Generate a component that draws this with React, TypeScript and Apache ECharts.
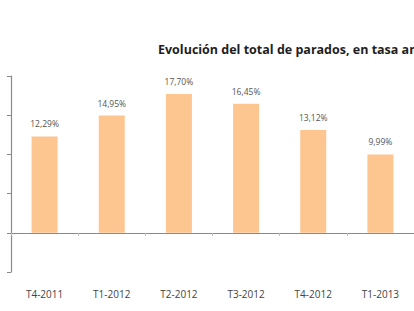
import React, { useEffect, useRef } from "react";
import * as echarts from "echarts";

const title = "Evolución del total de parados, en tasa anual";
const categories = ["T4-2011", "T1-2012", "T2-2012", "T3-2012", "T4-2012", "T1-2013"];
const values = [12.29, 14.95, 17.7, 16.45, 13.12, 9.99];
const labels = ["12,29%", "14,95%", "17,70%", "16,45%", "13,12%", "9,99%"];

export default function App() {
  const ref = useRef<HTMLDivElement>(null);
  useEffect(() => {
    const chart = echarts.init(ref.current!, null, { renderer: "svg" });
    chart.setOption({
      animation: false,
      backgroundColor: "#ffffff",
      title: {
        text: title,
        left: 153,
        top: 38,
        textStyle: { fontFamily: "Open Sans", fontSize: 12.5, fontWeight: "bold", color: "#1e1e1e" },
      },
      grid: { left: 11, width: 408, top: 76, height: 196 },
      xAxis: [
        {
          type: "category",
          data: categories,
          axisLine: { onZero: true, lineStyle: { color: "#8a8a8a", width: 1 } },
          axisTick: { show: true, length: 3, lineStyle: { color: "#bbb" } },
          axisLabel: { show: false },
        },
        {
          type: "category",
          data: categories,
          position: "bottom",
          axisLine: { show: false },
          axisTick: { show: false },
          axisLabel: { show: true, margin: 17, fontFamily: "Open Sans", fontSize: 10, color: "#444" },
        },
      ],
      yAxis: {
        type: "value",
        min: -5,
        max: 20,
        interval: 5,
        axisLine: { show: true, lineStyle: { color: "#8a8a8a", width: 1.2 } },
        axisTick: { show: true, length: 4, lineStyle: { color: "#8a8a8a" } },
        axisLabel: { show: false },
        splitLine: { show: false },
      },
      series: [
        {
          type: "bar",
          xAxisIndex: 0,
          data: values,
          barWidth: 26,
          itemStyle: { color: "#FDC590" },
          label: {
            show: true,
            position: "top",
            distance: 8,
            fontFamily: "Open Sans",
            fontSize: 8.5,
            color: "#555",
            formatter: (p: any) => labels[p.dataIndex],
          },
        },
      ],
    });
    return () => chart.dispose();
  }, []);
  return (
    <div
      ref={ref}
      style={{ position: "fixed", left: 0, top: 0, width: 414, height: 311 }}
    />
  );
}
